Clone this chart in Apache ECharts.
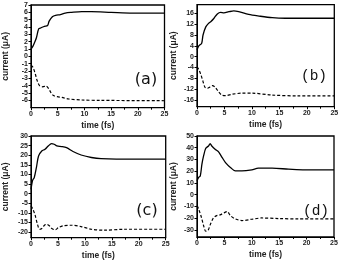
<!DOCTYPE html>
<html><head><meta charset="utf-8">
<script src="https://cdn.jsdelivr.net/npm/echarts@6/dist/echarts.min.js"></script>
<style>html,body{margin:0;padding:0;background:#fff}#c{width:344px;height:262px}</style>
</head><body><div id="c"></div>
<script>
// ---- data (time in fs, current in µA) ----
const aSolidT = [0,0.37,0.67,1.0,1.45,1.9,2.5,3.1,3.4,4.0,4.6,5.5,6.4,7.6,9.5,11.3,15,19,25];
const aSolidY = [1.0,1.4,1.9,2.5,3.75,3.9,4.1,4.2,4.8,5.4,5.6,5.7,5.9,6.0,6.1,6.1,6.0,5.9,5.9];
const aDashT  = [0,0.37,0.8,1.15,1.6,2.2,2.8,3.3,3.7,4.2,4.9,5.8,7.0,9.5,13,25];
const aDashY  = [-1.2,-1.5,-2.4,-3.3,-4.0,-4.15,-4.05,-4.4,-4.9,-5.35,-5.5,-5.6,-5.8,-5.95,-6.0,-6.05];

const bSolidT = [0,0.24,0.5,0.85,1.1,1.6,2.1,2.5,3.1,3.7,4.3,4.9,5.8,6.7,7.6,9.4,11.3,13.7,16.1,19.7,25];
const bSolidY = [2.5,3.7,4.3,4.9,8,11,12.3,12.9,14.2,15.8,16.4,16.2,16.6,16.9,16.6,15.6,15.0,14.4,14.2,14.2,14.2];
const bDashT  = [0,0.36,0.73,1.1,1.45,1.9,2.3,2.8,3.3,3.9,4.5,5.2,6.4,8.2,10,13.7,18.5,25];
const bDashY  = [-3.7,-4.9,-6.8,-9.2,-11.3,-11.7,-11.3,-10.7,-11.3,-12.9,-14.2,-14.4,-13.9,-13.5,-13.5,-14.2,-14.5,-14.5];

const cSolidT = [0,0.3,0.6,1.0,1.4,2.0,2.6,3.2,3.8,4.3,4.8,5.7,6.6,7.8,9.3,11.2,13,19.1,25];
const cSolidY = [2.2,6.9,8.3,13.5,19.6,22.2,23.1,24.8,26.0,25.7,24.8,24.5,23.9,21.9,20.1,18.8,18.2,17.9,17.9];
const cDashT  = [0,0.37,0.8,1.2,1.6,2.0,2.5,2.9,3.4,3.8,4.5,5.1,6.0,7.5,9.3,11.2,13.6,17.3,25];
const cDashY  = [-6.4,-8.2,-11.6,-16,-18.6,-18.2,-16.5,-16,-16.8,-18.1,-18.9,-17.7,-16.8,-16.5,-17.2,-18.6,-19.1,-18.6,-18.6];

const dSolidT = [0,0.3,0.6,0.9,1.2,1.6,2.1,2.4,2.7,3.3,3.9,4.6,5.2,6.1,7.0,8.2,10,11.2,13.7,16.7,19.7,25];
const dSolidY = [11.9,14.7,16.1,26,33,39.5,41.5,43.5,41.5,38.7,36.7,31.6,27.4,23.2,20.3,20.3,21.2,22.6,22.6,21.8,21.2,21.2];
const dDashT  = [0,0.3,0.8,1.2,1.6,2.0,2.4,3.0,3.6,4.2,4.9,5.5,6.1,7.0,8.2,10,11.8,14.9,18.5,25];
const dDashY  = [-9.3,-12.1,-19.2,-26.3,-31.1,-30.5,-25.7,-19.8,-17.8,-17.2,-15.5,-14.4,-17.8,-20.6,-22,-20.9,-19.8,-20.3,-20.6,-20.6];

const xTicks = [0,5,10,15,20,25];
const aTicks = [-6,-5,-4,-3,-2,-1,0,1,2,3,4,5,6,7];
const bTicks = [-16,-12,-8,-4,0,4,8,12,16];
const cTicks = [-20,-15,-10,-5,0,5,10,15,20,25,30];
const dTicks = [-30,-20,-10,0,10,20,30,40,50];
const panelLabels = ['(a)','(b)','(c)','(d)'];
const xTitle = 'time (fs)';
const yTitle = 'current (\u03bcA)';

// ---- layout ----
const panels = [
  {grid:{left:28, top:5, width:136.5, height:102.7}, min:-7, max:7, ticks:aTicks, st:aSolidT, sy:aSolidY, dt:aDashT, dy:aDashY, gap:21, lab:{x:146,y:80}, font:'DejaVu Sans', fs:16},
  {grid:{left:197, top:4.7, width:137.3, height:102}, min:-18.5, max:19.2, ticks:bTicks, st:bSolidT, sy:bSolidY, dt:bDashT, dy:bDashY, gap:19, lab:{x:314,y:76}, font:'Liberation Mono', fs:14.5},
  {grid:{left:28.5, top:136, width:137.2, height:101.7}, min:-23, max:30, ticks:cTicks, st:cSolidT, sy:cSolidY, dt:cDashT, dy:cDashY, gap:21, lab:{x:147,y:211}, font:'DejaVu Sans', fs:16},
  {grid:{left:197, top:136, width:137, height:101}, min:-36, max:50, ticks:dTicks, st:dSolidT, sy:dSolidY, dt:dDashT, dy:dDashY, gap:19, lab:{x:316,y:211}, font:'Liberation Mono', fs:14.5}
];

const zip = (a,b)=>a.map((v,i)=>[v,b[i]]);
const tickFont = {fontFamily:'Liberation Sans', fontWeight:'bold', fontSize:7, color:'#222'};
const option = {animation:false, grid:[], xAxis:[], yAxis:[], series:[], graphic:[]};
panels.forEach((p,i)=>{
  option.grid.push(Object.assign({show:true, borderColor:'#000', borderWidth:1.3, backgroundColor:'transparent'}, p.grid));
  option.xAxis.push({
    gridIndex:i, type:'value', min:0, max:25, interval:5,
    name:xTitle, nameLocation:'middle', nameGap:13,
    nameTextStyle:{fontFamily:'Liberation Sans', fontWeight:'bold', fontSize:8.5, color:'#222'},
    axisLine:{onZero:false, lineStyle:{color:'#000', width:1}},
    axisTick:{show:true, length:2.5, lineStyle:{color:'#000'}},
    minorTick:{show:true, splitNumber:2, length:2, lineStyle:{color:'#000'}},
    axisLabel:Object.assign({margin:3, customValues:xTicks}, tickFont),
    splitLine:{show:false}
  });
  option.yAxis.push({
    gridIndex:i, type:'value', min:p.min, max:p.max,
    name:yTitle, nameLocation:'middle', nameGap:p.gap, nameRotate:90,
    nameTextStyle:{fontFamily:'Liberation Sans', fontWeight:'bold', fontSize:8.5, color:'#222'},
    axisLine:{onZero:false, lineStyle:{color:'#000', width:1}},
    axisTick:{show:true, length:2.5, customValues:p.ticks, lineStyle:{color:'#000'}},
    axisLabel:Object.assign({margin:3, customValues:p.ticks}, tickFont),
    splitLine:{show:false}
  });
  option.series.push({type:'line', xAxisIndex:i, yAxisIndex:i, data:zip(p.st,p.sy), symbol:'none', smooth:0.3,
    lineStyle:{color:'#000', width:1.3}});
  option.series.push({type:'line', xAxisIndex:i, yAxisIndex:i, data:zip(p.dt,p.dy), symbol:'none', smooth:0.3,
    lineStyle:{color:'#000', width:1.2, type:[3,2]}});
  option.graphic.push({type:'text', x:p.lab.x, y:p.lab.y,
    style:{text:panelLabels[i], fontFamily:p.font, fontSize:p.fs, fill:'#111', align:'center', verticalAlign:'middle'}});
});
const chart = echarts.init(document.getElementById('c'), null, {renderer:'canvas'});
chart.setOption(option);
</script></body></html>
